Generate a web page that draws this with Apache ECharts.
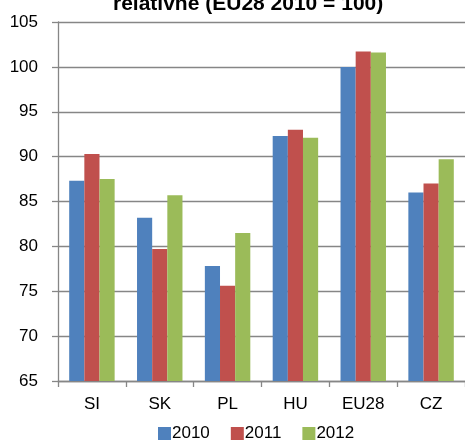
<!DOCTYPE html>
<html>
<head>
<meta charset="utf-8">
<script src="https://cdn.jsdelivr.net/npm/echarts@6/dist/echarts.min.js"></script>
<style>html,body{margin:0;padding:0;background:#fff}#c{width:465px;height:441px}</style>
</head>
<body>
<div id="c"></div>
<script>
const titleText = 'relativně (EU28 2010 = 100)';
const categories = ['SI', 'SK', 'PL', 'HU', 'EU28', 'CZ'];
const seriesNames = ['2010', '2011', '2012'];
const values2010 = [87.3, 83.2, 77.8, 92.3, 100.0, 86.0];
const values2011 = [90.3, 79.7, 75.6, 93.0, 101.7, 87.0];
const values2012 = [87.5, 85.7, 81.5, 92.1, 101.6, 89.7];
const yMin = 65, yMax = 105, yStep = 5;
const colors = ['#4F81BD', '#C0504D', '#9BBB59'];

const font = "'Liberation Sans', Arial, sans-serif";
const chart = echarts.init(document.getElementById('c'), null, {renderer: 'canvas'});
const allValues = [values2010, values2011, values2012];
chart.setOption({
  animation: false,
  color: colors,
  title: {
    text: titleText,
    left: 108, top: -11,
    textStyle: {fontFamily: font, fontSize: 21, fontWeight: 'bold', color: '#000'}
  },
  legend: {
    data: seriesNames,
    left: 153, top: 420,
    itemWidth: 13, itemHeight: 13, itemGap: 21,
    icon: 'rect',
    textStyle: {fontFamily: font, fontSize: 17, color: '#000', padding: [0, 0, 0, -4]}
  },
  grid: {left: 58, top: 22, width: 415, height: 359, containLabel: false},
  xAxis: {
    type: 'category',
    data: categories,
    axisLine: {lineStyle: {color: '#868686', width: 1.3}},
    axisTick: {show: true, length: 6, lineStyle: {color: '#868686', width: 1.3}},
    axisLabel: {fontFamily: font, fontSize: 17, color: '#000', margin: 15},
    splitLine: {show: false}
  },
  yAxis: {
    type: 'value',
    min: yMin, max: yMax, interval: yStep,
    axisLine: {show: true, lineStyle: {color: '#868686', width: 1.3}},
    axisTick: {show: true, length: 6, lineStyle: {color: '#868686', width: 1.3}},
    axisLabel: {fontFamily: font, fontSize: 17, color: '#000', margin: 20},
    splitLine: {show: true, lineStyle: {color: '#868686', width: 1.3}}
  },
  series: seriesNames.map((n, i) => ({
    name: n,
    type: 'bar',
    data: allValues[i],
    barGap: '0%',
    barCategoryGap: '33%',
    itemStyle: {color: colors[i]}
  }))
});
</script>
</body>
</html>
